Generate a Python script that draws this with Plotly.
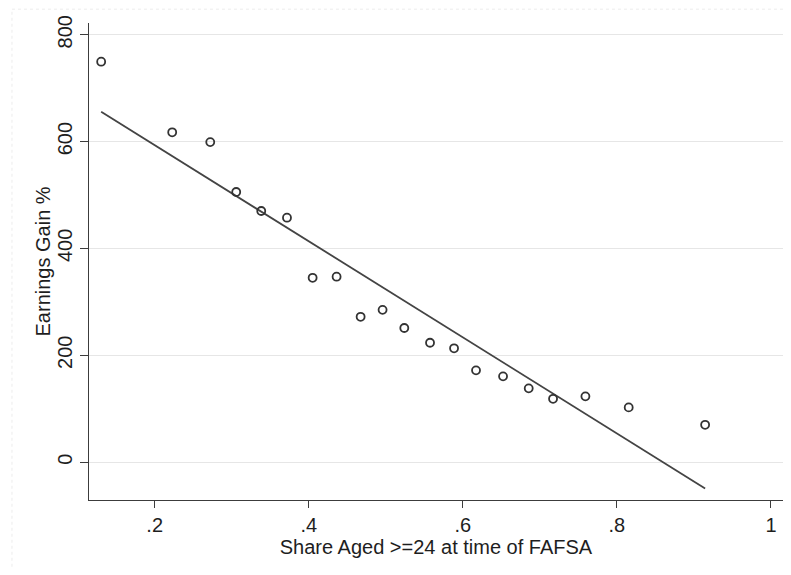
import numpy as np
import plotly.graph_objects as go

# Binned scatter: share aged >=24 at time of FAFSA vs earnings gain %
share_aged = [0.1305, 0.2227, 0.2721, 0.3058, 0.3383, 0.3717, 0.4050, 0.4361, 0.4673, 0.4958,
              0.5240, 0.5574, 0.5886, 0.6171, 0.6522, 0.6855, 0.7171, 0.7591, 0.8153, 0.9145]
earnings_gain = [749.6, 617.4, 599.0, 505.6, 470.0, 457.5, 345.0, 347.0, 272.0, 285.0,
                 251.0, 223.4, 213.0, 171.7, 160.5, 138.0, 118.5, 123.0, 102.4, 69.8]

x_tickvals = [0.2, 0.4, 0.6, 0.8, 1.0]
x_ticktext = [".2", ".4", ".6", ".8", "1"]
y_tickvals = [0, 200, 400, 600, 800]
y_ticktext = ["0", "200", "400", "600", "800"]

slope, intercept = np.polyfit(share_aged, earnings_gain, 1)
fit_x = [min(share_aged), max(share_aged)]
fit_y = [intercept + slope * v for v in fit_x]

FONT = "Liberation Sans, Arial, sans-serif"
AX = "#3c3c3c"
TXT = "#1e1e1e"
FS = 20

fig = go.Figure()
fig.add_trace(go.Scatter(
    x=fit_x, y=fit_y, mode="lines",
    line=dict(color="#444444", width=1.8),
    showlegend=False, hoverinfo="skip"))
fig.add_trace(go.Scatter(
    x=share_aged, y=earnings_gain, mode="markers",
    marker=dict(symbol="circle-open", size=8, color="#333333", line=dict(width=1.8, color="#333333")),
    showlegend=False, hoverinfo="x+y"))

# page body has an 8px default margin; size the figure to fit the 791x575 window
fig.update_layout(
    width=783, height=567,
    margin=dict(l=81, r=8, t=15, b=75),
    paper_bgcolor="white", plot_bgcolor="white",
    font=dict(family=FONT, size=FS, color=TXT),
    showlegend=False,
)
fig.update_xaxes(
    range=[0.1147, 1.0156], tickvals=x_tickvals, ticktext=x_ticktext, automargin=False,
    showgrid=False, zeroline=False,
    showline=True, linecolor=AX, linewidth=1.3,
    ticks="outside", ticklen=7, tickwidth=1.3, tickcolor=AX,
    tickfont=dict(size=FS, family=FONT, color=TXT),
    title=dict(text="Share Aged >=24 at time of FAFSA", font=dict(size=FS, family=FONT, color=TXT), standoff=0),
)
fig.update_yaxes(
    range=[-71, 822], tickvals=y_tickvals, ticktext=y_ticktext, tickangle=-90, automargin=False,
    showgrid=True, gridcolor="#e6e6e6", gridwidth=1, zeroline=False,
    showline=True, linecolor=AX, linewidth=1.3,
    ticks="outside", ticklen=8, tickwidth=1.3, tickcolor=AX,
    tickfont=dict(size=FS, family=FONT, color=TXT),
)
fig.add_annotation(text="Earnings Gain %", xref="paper", yref="paper", x=-0.0663, y=0.5,
                   xanchor="center", yanchor="middle", textangle=-90, showarrow=False,
                   font=dict(size=FS, family=FONT, color=TXT))

# faint outer frame (left and top edges)
fig.add_shape(type="line", xref="paper", yref="paper", x0=-0.111, x1=-0.111, y0=-0.14, y1=1.029,
              line=dict(color="#ececec", width=1, dash="dot"))
fig.add_shape(type="line", xref="paper", yref="paper", x0=-0.111, x1=1.01, y0=1.029, y1=1.029,
              line=dict(color="#ececec", width=1, dash="dot"))

fig.write_html("out.html")
